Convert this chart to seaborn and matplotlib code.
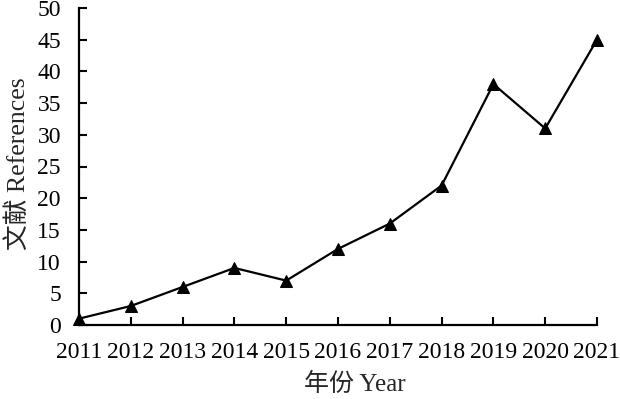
import matplotlib
matplotlib.use("Agg")
import matplotlib.pyplot as plt
import seaborn as sns
import pandas as pd

years = [2011, 2012, 2013, 2014, 2015, 2016, 2017, 2018, 2019, 2020, 2021]
references = [1, 3, 6, 9, 7, 12, 16, 22, 38, 31, 45]
y_ticks = [0, 5, 10, 15, 20, 25, 30, 35, 40, 45, 50]

sns.set_style("ticks")
plt.rcParams['font.family'] = ['Liberation Serif', 'Noto Sans CJK SC']

df = pd.DataFrame({"year": years, "refs": references})

fig = plt.figure(figsize=(6.2, 3.99), dpi=100)
ax = fig.add_axes([79/620, 1-325/399, (597-79)/620, (325-8)/399])
sns.lineplot(data=df, x="year", y="refs", ax=ax, color="black", linewidth=1.6,
             marker="^", markersize=9, markeredgecolor="black", markerfacecolor="black")

ax.set_xlim(2011, 2021)
ax.set_ylim(0, 50)
ax.set_xticks(years)
ax.set_yticks(y_ticks)
ax.tick_params(direction="in", length=6, width=1.5, labelsize=17, colors="black")
ax.tick_params(axis="x", pad=12)
ax.tick_params(axis="y", pad=13)
for s in ["top", "right"]:
    ax.spines[s].set_visible(False)
for s in ["left", "bottom"]:
    ax.spines[s].set_linewidth(1.6)
    ax.spines[s].set_color("black")
ax.set_xlabel("年份 Year", fontsize=18,
              family=['Liberation Serif', 'Noto Sans CJK SC'])
ax.set_ylabel("文献 References", fontsize=18.5,
              family=['Liberation Serif', 'Noto Sans CJK SC'])
ax.xaxis.set_label_coords(355/620, 1-373/399, transform=fig.transFigure)
ax.yaxis.set_label_coords(30/620, 1-164/399, transform=fig.transFigure)
for lab in ax.get_xticklabels() + ax.get_yticklabels():
    lab.set_family(['Liberation Serif'])
for line in ax.lines:
    line.set_clip_on(False)

fig.savefig("out.png", dpi=100)
